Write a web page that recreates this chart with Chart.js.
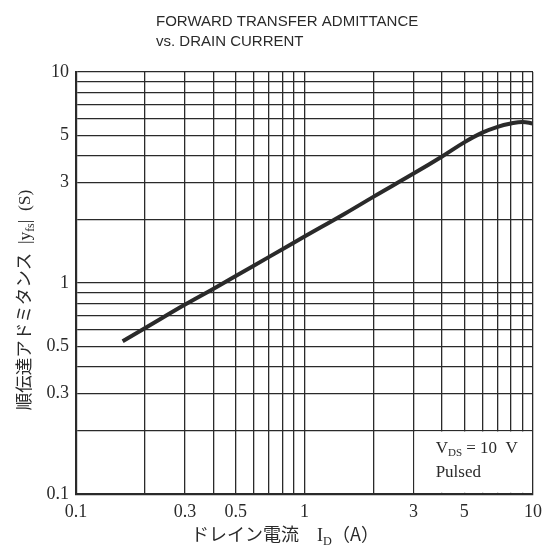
<!DOCTYPE html>
<html>
<head>
<meta charset="utf-8">
<script src="https://cdn.jsdelivr.net/npm/chart.js@4.4.1/dist/chart.umd.min.js"></script>
<style>
  html, body { margin: 0; padding: 0; background: #fff; }
  #wrap { width: 549px; height: 550px; }
</style>
</head>
<body>
<div id="wrap"><canvas id="myChart" width="549" height="550"></canvas></div>
<script>
// drain current (A) and |yfs| (S)
const drainCurrent = [0.16, 0.2, 0.3, 0.4, 0.5, 0.7, 1, 1.5, 2, 3, 4, 5, 6, 7, 8, 9, 10];
const admittance = [0.53, 0.61, 0.79, 0.94, 1.08, 1.33, 1.66, 2.13, 2.56, 3.3, 3.98, 4.64, 5.16, 5.5, 5.7, 5.8, 5.7];

// grid lines and labelled ticks
const gridValues = [0.1, 0.2, 0.3, 0.4, 0.5, 0.6, 0.7, 0.8, 0.9, 1, 2, 3, 4, 5, 6, 7, 8, 9, 10];
const xTickLabels = [0.1, 0.3, 0.5, 1, 3, 5, 10];
const yTickLabels = [0.1, 0.3, 0.5, 1, 3, 5, 10];

const titleLines = ['FORWARD TRANSFER ADMITTANCE', 'vs. DRAIN CURRENT'];

const ink = '#2a2a2a';
const serif = '"Liberation Serif", "DejaVu Serif", serif';
const jp = '"Noto Sans CJK JP", sans-serif';

// draws pieces of text, some of them as subscripts
function drawRich(ctx, parts, x, y, size, fontFam) {
  let w = 0;
  parts.forEach(p => {
    ctx.font = (p.sub ? size * 0.68 : size) + 'px ' + (p.font || fontFam);
    w += ctx.measureText(p.t).width;
  });
  let cx = x - w / 2;
  parts.forEach(p => {
    ctx.font = (p.sub ? size * 0.68 : size) + 'px ' + (p.font || fontFam);
    ctx.fillText(p.t, cx, p.sub ? y + size * 0.22 : y);
    cx += ctx.measureText(p.t).width;
  });
}

const extras = {
  id: 'extras',
  beforeDatasetsDraw(chart) {
    const ctx = chart.ctx;
    const xs = chart.scales.x, ys = chart.scales.y;
    // white box for the conditions note
    const l = xs.getPixelForValue(3) + 1;
    const t = ys.getPixelForValue(0.2) + 1;
    ctx.save();
    ctx.fillStyle = '#fff';
    ctx.fillRect(l, t, chart.chartArea.right - 1.2 - l, chart.chartArea.bottom - 1.2 - t);
    ctx.restore();
  },
  afterDraw(chart) {
    const ctx = chart.ctx;
    const xs = chart.scales.x;
    ctx.save();
    ctx.fillStyle = ink;
    ctx.textBaseline = 'alphabetic';

    // title
    ctx.font = '15px "Liberation Sans", Arial, sans-serif';
    ctx.textAlign = 'left';
    ctx.fillText(titleLines[0], 156, 26);
    ctx.fillText(titleLines[1], 156, 46);

    // note
    const nx = xs.getPixelForValue(3.75);
    ctx.font = '17px ' + serif;
    ctx.fillText('V', nx, 453);
    let w = ctx.measureText('V').width;
    ctx.font = '11px ' + serif;
    ctx.fillText('DS', nx + w, 456);
    w += ctx.measureText('DS').width;
    ctx.font = '17px ' + serif;
    ctx.fillText(' = 10  V', nx + w, 453);
    ctx.fillText('Pulsed', nx, 477);

    // x axis title
    drawRich(ctx, [
      { t: 'ドレイン電流　', font: jp },
      { t: 'I' },
      { t: 'D', sub: true },
      { t: '（A）', font: jp }
    ], 285, 541, 18, serif);

    // y axis title
    ctx.translate(24, 300);
    ctx.rotate(-Math.PI / 2);
    drawRich(ctx, [
      { t: '順伝達アドミタンス', font: jp },
      { t: '  |y' },
      { t: 'fs', sub: true },
      { t: '|  (S)' }
    ], 0, 6, 17.5, serif);
    ctx.restore();
  }
};

const ctx = document.getElementById('myChart').getContext('2d');
const myChart = new Chart(ctx, {
  type: 'line',
  data: {
    datasets: [{
      data: drainCurrent.map((v, i) => ({ x: v, y: admittance[i] })),
      borderColor: ink,
      borderWidth: 4,
      pointRadius: 0,
      fill: false,
      tension: 0.4
    }]
  },
  options: {
    responsive: false,
    animation: false,
    devicePixelRatio: 1,
    layout: { padding: { top: 72, right: 11, left: 0, bottom: 0 } },
    plugins: { legend: { display: false }, tooltip: { enabled: false } },
    scales: {
      x: {
        type: 'logarithmic',
        min: 0.1,
        max: 10,
        afterBuildTicks: s => { s.ticks = gridValues.map(v => ({ value: v })); },
        afterFit: s => { s.height = 56; },
        grid: { color: ink, lineWidth: 1.3, drawTicks: false },
        border: { color: ink, width: 2.2 },
        ticks: {
          autoSkip: false,
          maxRotation: 0,
          padding: 7,
          color: ink,
          font: { family: serif, size: 18 },
          callback: v => xTickLabels.includes(v) ? String(v) : ''
        }
      },
      y: {
        type: 'logarithmic',
        min: 0.1,
        max: 10,
        afterBuildTicks: s => { s.ticks = gridValues.map(v => ({ value: v })); },
        afterFit: s => { s.width = 76; },
        grid: { color: ink, lineWidth: 1.3, drawTicks: false },
        border: { color: ink, width: 2.2 },
        ticks: {
          autoSkip: false,
          padding: 7,
          color: ink,
          font: { family: serif, size: 18 },
          callback: v => yTickLabels.includes(v) ? String(v) : ''
        }
      }
    }
  },
  plugins: [extras]
});
</script>
</body>
</html>
